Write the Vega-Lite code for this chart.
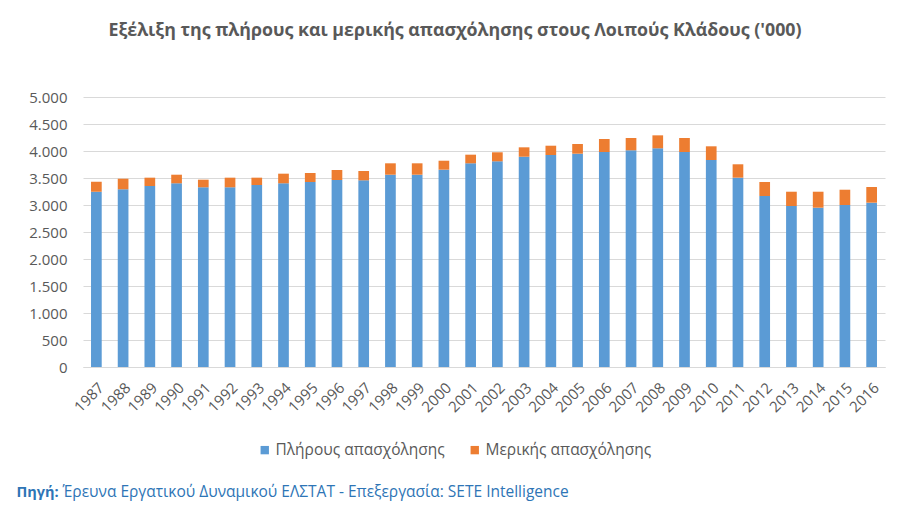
{
  "$schema": "https://vega.github.io/schema/vega-lite/v6.json",
  "autosize": {"type": "none"},
  "width": 802,
  "height": 270,
  "padding": {"left": 83, "top": 97, "right": 20, "bottom": 149},
  "background": "white",
  "title": {
    "text": "Εξέλιξη της πλήρους και μερικής απασχόλησης στους Λοιπούς Κλάδους ('000)",
    "font": "Open Sans",
    "fontSize": 17.8,
    "fontWeight": "bold",
    "color": "#595959",
    "anchor": "middle",
    "dx": -29,
    "offset": 50
  },
  "data": {
    "values": [
      {"year": "1987", "type": "Πλήρους απασχόλησης", "value": 3246}, {"year": "1987", "type": "Μερικής απασχόλησης", "value": 185},
      {"year": "1988", "type": "Πλήρους απασχόλησης", "value": 3291}, {"year": "1988", "type": "Μερικής απασχόλησης", "value": 196},
      {"year": "1989", "type": "Πλήρους απασχόλησης", "value": 3352}, {"year": "1989", "type": "Μερικής απασχόλησης", "value": 154},
      {"year": "1990", "type": "Πλήρους απασχόλησης", "value": 3402}, {"year": "1990", "type": "Μερικής απασχόλησης", "value": 159},
      {"year": "1991", "type": "Πλήρους απασχόλησης", "value": 3328}, {"year": "1991", "type": "Μερικής απασχόλησης", "value": 141},
      {"year": "1992", "type": "Πλήρους απασχόλησης", "value": 3328}, {"year": "1992", "type": "Μερικής απασχόλησης", "value": 178},
      {"year": "1993", "type": "Πλήρους απασχόλησης", "value": 3370}, {"year": "1993", "type": "Μερικής απασχόλησης", "value": 136},
      {"year": "1994", "type": "Πλήρους απασχόλησης", "value": 3402}, {"year": "1994", "type": "Μερικής απασχόλησης", "value": 178},
      {"year": "1995", "type": "Πλήρους απασχόλησης", "value": 3426}, {"year": "1995", "type": "Μερικής απασχόλησης", "value": 167},
      {"year": "1996", "type": "Πλήρους απασχόλησης", "value": 3463}, {"year": "1996", "type": "Μερικής απασχόλησης", "value": 185},
      {"year": "1997", "type": "Πλήρους απασχόλησης", "value": 3457}, {"year": "1997", "type": "Μερικής απασχόλησης", "value": 173},
      {"year": "1998", "type": "Πλήρους απασχόλησης", "value": 3561}, {"year": "1998", "type": "Μερικής απασχόλησης", "value": 211},
      {"year": "1999", "type": "Πλήρους απασχόλησης", "value": 3561}, {"year": "1999", "type": "Μερικής απασχόλησης", "value": 211},
      {"year": "2000", "type": "Πλήρους απασχόλησης", "value": 3654}, {"year": "2000", "type": "Μερικής απασχόλησης", "value": 166},
      {"year": "2001", "type": "Πλήρους απασχόλησης", "value": 3772}, {"year": "2001", "type": "Μερικής απασχόλησης", "value": 160},
      {"year": "2002", "type": "Πλήρους απασχόλησης", "value": 3809}, {"year": "2002", "type": "Μερικής απασχόλησης", "value": 167},
      {"year": "2003", "type": "Πλήρους απασχόλησης", "value": 3894}, {"year": "2003", "type": "Μερικής απασχόλησης", "value": 174},
      {"year": "2004", "type": "Πλήρους απασχόλησης", "value": 3926}, {"year": "2004", "type": "Μερικής απασχόλησης", "value": 172},
      {"year": "2005", "type": "Πλήρους απασχόλησης", "value": 3950}, {"year": "2005", "type": "Μερικής απασχόλησης", "value": 180},
      {"year": "2006", "type": "Πλήρους απασχόλησης", "value": 3981}, {"year": "2006", "type": "Μερικής απασχόλησης", "value": 241},
      {"year": "2007", "type": "Πλήρους απασχόλησης", "value": 4013}, {"year": "2007", "type": "Μερικής απασχόλησης", "value": 228},
      {"year": "2008", "type": "Πλήρους απασχόλησης", "value": 4050}, {"year": "2008", "type": "Μερικής απασχόλησης", "value": 240},
      {"year": "2009", "type": "Πλήρους απασχόλησης", "value": 3981}, {"year": "2009", "type": "Μερικής απασχόλησης", "value": 260},
      {"year": "2010", "type": "Πλήρους απασχόλησης", "value": 3833}, {"year": "2010", "type": "Μερικής απασχόλησης", "value": 254},
      {"year": "2011", "type": "Πλήρους απασχόλησης", "value": 3506}, {"year": "2011", "type": "Μερικής απασχόλησης", "value": 248},
      {"year": "2012", "type": "Πλήρους απασχόλησης", "value": 3167}, {"year": "2012", "type": "Μερικής απασχόλησης", "value": 259},
      {"year": "2013", "type": "Πλήρους απασχόλησης", "value": 2981}, {"year": "2013", "type": "Μερικής απασχόλησης", "value": 265},
      {"year": "2014", "type": "Πλήρους απασχόλησης", "value": 2950}, {"year": "2014", "type": "Μερικής απασχόλησης", "value": 296},
      {"year": "2015", "type": "Πλήρους απασχόλησης", "value": 3000}, {"year": "2015", "type": "Μερικής απασχόλησης", "value": 283},
      {"year": "2016", "type": "Πλήρους απασχόλησης", "value": 3043}, {"year": "2016", "type": "Μερικής απασχόλησης", "value": 290}
    ]
  },
  "mark": {"type": "bar"},
  "encoding": {
    "x": {
      "field": "year",
      "type": "ordinal",
      "scale": {"paddingInner": 0.6, "paddingOuter": 0.3},
      "axis": {
        "title": "Έρευνα Εργατικού Δυναμικού ΕΛΣΤΑΤ - Επεξεργασία: SETE Intelligence",
        "titleFont": "Open Sans",
        "titleFontSize": 15.5,
        "titleFontWeight": "normal",
        "titleColor": "#2E75B6",
        "titleX": -21,
        "titleY": 129,
        "titleAlign": "left",
        "titleAnchor": "start",
        "titleBaseline": "alphabetic",
        "labelAngle": -45,
        "labelFont": "Open Sans",
        "labelFontSize": 15,
        "labelColor": "#595959",
        "labelPadding": 13,
        "ticks": false,
        "domainColor": "#D9D9D9",
        "domainWidth": 1
      }
    },
    "y": {
      "field": "value",
      "type": "quantitative",
      "stack": "zero",
      "scale": {"domain": [0, 5000], "nice": false},
      "axis": {
        "values": [0, 500, 1000, 1500, 2000, 2500, 3000, 3500, 4000, 4500, 5000],
        "labelExpr": "replace(format(datum.value, ','), ',', '.')",
        "title": "Πηγή:",
        "titleFont": "Open Sans",
        "titleFontSize": 14.5,
        "titleFontWeight": "bold",
        "titleColor": "#2E75B6",
        "titleAngle": 0,
        "titleX": -67,
        "titleY": 399,
        "titleAlign": "left",
        "titleBaseline": "alphabetic",
        "labelFont": "Open Sans",
        "labelFontSize": 15,
        "labelColor": "#595959",
        "labelPadding": 16,
        "ticks": false,
        "domain": false,
        "gridColor": "#D9D9D9",
        "gridWidth": 1
      }
    },
    "color": {
      "field": "type",
      "type": "nominal",
      "scale": {
        "domain": ["Πλήρους απασχόλησης", "Μερικής απασχόλησης"],
        "range": ["#5B9BD5", "#ED7D31"]
      },
      "legend": {
        "title": null,
        "orient": "none",
        "direction": "horizontal",
        "legendX": 174,
        "legendY": 345,
        "symbolType": "square",
        "symbolSize": 70,
        "symbolStrokeWidth": 0,
        "labelFont": "Open Sans",
        "labelFontSize": 15.5,
        "labelLimit": 400,
        "labelColor": "#595959",
        "columnPadding": 22,
        "labelOffset": 3
      }
    },
    "order": {"field": "type", "sort": "descending"}
  },
  "config": {
    "view": {"stroke": null}
  }
}
